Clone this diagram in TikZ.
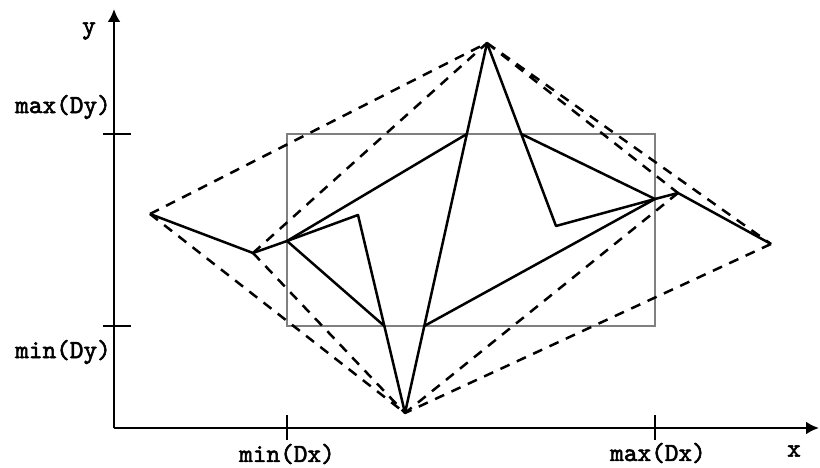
\documentclass[tikz,border=0pt]{standalone}
\usepackage{fontspec}
\setmonofont{lmmono10-regular}[Extension=.otf,AutoFakeBold=2.2]
\usetikzlibrary{arrows.meta}
\begin{document}
\begin{tikzpicture}[x=1pt,y=1pt,>={Latex[length=13pt,width=13pt]},
 ax/.style={->,line width=2.5pt,draw=black},
 tickmark/.style={line width=2.5pt,draw=black},
 poly/.style={line width=2.5pt,draw=black,line join=round},
 hull/.style={line width=2.5pt,draw=black,dash pattern=on 10pt off 8pt},
 box/.style={line width=1.2pt,draw=black!50},
 every node/.style={font=\ttfamily\bfseries\fontsize{26}{29}\selectfont,inner sep=1pt}]
\useasboundingbox (0,0) rectangle (820,468);
% axes
\coordinate (O) at (114,40);
\coordinate (xend) at (819,40);
\coordinate (yend) at (114,459);
\draw[ax] (O)--(xend);
\draw[ax] (O)--(yend);
\node (xlab) at (794,17) {x};
\node (ylab) at (89,437) {y};
% bounding box of D
\coordinate (bl) at (287,142);
\coordinate (br) at (655,142);
\coordinate (tl) at (287,334);
\coordinate (tr) at (655,334);
\draw[box] (bl) rectangle (tr);
\coordinate (xmin) at (287,40);
\coordinate (xmax) at (655,40);
\coordinate (ymin) at (114,142);
\coordinate (ymax) at (114,334);
\draw[tickmark] ([yshift=13pt]xmin)--([yshift=-12pt]xmin);
\draw[tickmark] ([yshift=13pt]xmax)--([yshift=-12pt]xmax);
\draw[tickmark] ([xshift=-11pt]ymin)--([xshift=17pt]ymin);
\draw[tickmark] ([xshift=-11pt]ymax)--([xshift=17pt]ymax);
\node (lxmin) at (287,14) {min(Dx)};
\node (lxmax) at (658,15) {max(Dx)};
\node[anchor=east] (lymin) at (112,116) {min(Dy)};
\node[anchor=east] (lymax) at (112,361) {max(Dy)};
% vertices
\coordinate (A) at (150,254);
\coordinate (B) at (253,215);
\coordinate (C) at (287,227);
\coordinate (D) at (358,253);
\coordinate (F) at (405,55);
\coordinate (T) at (487,425);
\coordinate (K) at (556,242);
\coordinate (L) at (655,269);
\coordinate (M) at (678,275);
\coordinate (R) at (771,224);
\coordinate (P) at (intersection of F--T and tl--tr);
\coordinate (Q) at (intersection of T--K and tl--tr);
\coordinate (H) at (intersection of F--T and bl--br);
\coordinate (G) at (intersection of D--F and bl--br);
% hulls
\draw[hull] (A)--(T) (A)--(F) (B)--(T) (B)--(F);
\draw[hull] (T)--(M) (T)--(R) (M)--(F) (R)--(F);
% polygon and clipped part
\draw[poly] (A)--(B)--(C)--(D)--(F)--(T)--(K)--(L)--(M)--(R);
\draw[poly] (C)--(P) (Q)--(L)--(H) (C)--(G);
\end{tikzpicture}
\end{document}
